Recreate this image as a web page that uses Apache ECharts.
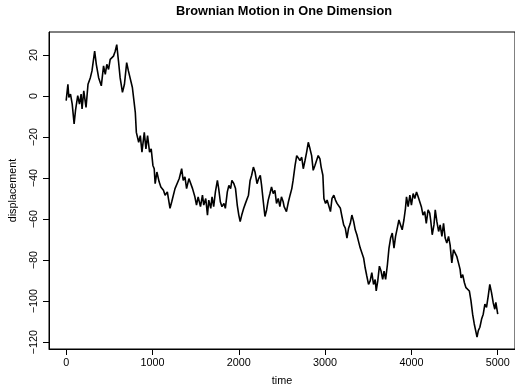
<!DOCTYPE html>
<html>
<head>
<meta charset="utf-8">
<script src="https://cdn.jsdelivr.net/npm/echarts@6/dist/echarts.min.js"></script>
<style>html,body{margin:0;padding:0;background:#fff;}#c{width:515px;height:392px;}</style>
</head>
<body>
<div id="c"></div>
<script>
const time = [0,20,31,50,70,92,108,134,154,173,184,204,230,253,280,299,330,349,376,407,433,453,471,491,510,548,568,586,606,625,652,675,701,721,740,767,790,801,813,840,859,878,905,924,943,966,985,1005,1020,1031,1051,1077,1097,1127,1146,1172,1203,1223,1261,1280,1310,1338,1356,1376,1395,1422,1441,1464,1491,1510,1529,1556,1579,1594,1617,1637,1652,1675,1690,1709,1729,1752,1767,1786,1805,1828,1844,1867,1885,1905,1920,1943,1962,1982,2000,2016,2034,2057,2077,2097,2112,2131,2149,2169,2188,2211,2230,2249,2264,2284,2303,2322,2341,2361,2379,2399,2418,2437,2457,2476,2494,2514,2525,2552,2575,2594,2614,2629,2652,2671,2690,2709,2729,2747,2767,2786,2805,2825,2844,2862,2882,2901,2920,2940,2954,2974,2986,3005,3023,3043,3062,3080,3101,3120,3138,3157,3177,3195,3215,3234,3253,3272,3292,3310,3331,3349,3368,3387,3407,3425,3446,3464,3483,3503,3522,3541,3561,3580,3592,3610,3629,3648,3667,3683,3701,3722,3740,3759,3778,3798,3816,3836,3855,3874,3893,3913,3931,3943,3962,3982,4000,4020,4039,4059,4078,4097,4115,4134,4154,4172,4193,4212,4223,4241,4261,4276,4295,4315,4333,4353,4372,4391,4410,4430,4448,4468,4487,4506,4525,4545,4564,4575,4594,4614,4632,4652,4671,4690,4709,4728,4748,4760,4775,4793,4813,4832,4851,4870,4890,4908,4928,4947,4966,4978,5000];
const displacement = [-2.2,5.8,-0.6,1,-3.9,-13.5,-7,0.2,-3.9,1,-6.3,2.6,-5.5,5.8,9,12.3,21.9,15.5,9,5,14.7,10.6,15.5,13,17.9,19.5,21.9,25.1,17.1,9,1.8,5.8,16.3,12.3,13,4.2,-4,-8,-17.7,-22.5,-19.3,-27.3,-17.7,-25.7,-19.3,-27.3,-25.7,-33.8,-35.4,-42.7,-37,-41.8,-44.3,-45.9,-48.3,-46.7,-54.7,-51.5,-45.1,-45.9,-40.2,-35.4,-41.1,-39.4,-45.1,-40.2,-39.4,-45.1,-49.1,-53.1,-49.1,-53.9,-48.3,-53.1,-49.9,-58,-50.7,-54.7,-49.1,-53.9,-46.7,-41.1,-45.1,-51.5,-53.9,-52.3,-54.7,-46.7,-43.5,-45.1,-41.1,-42.7,-45.1,-53.1,-58,-61.2,-58,-54.7,-52.3,-53.1,-48.3,-41.1,-38.6,-34.6,-37,-42.7,-40.2,-38.6,-43.5,-51.5,-58.7,-55.5,-50.7,-47.5,-44.3,-47.5,-45.9,-52.3,-49.9,-53.9,-49.1,-51.5,-53.9,-56.3,-51.5,-48.3,-45.1,-41.1,-33.8,-29,-28.2,-31.4,-29.8,-35.4,-31.4,-27.3,-22.5,-25.7,-29,-36.2,-33.8,-31.4,-29,-30.6,-34.6,-38.6,-49.9,-52.3,-50.7,-51.5,-56.3,-49.9,-48.3,-50.7,-52.3,-52.3,-54.7,-58.7,-62.8,-64.4,-69.2,-64.4,-62,-58,-61.2,-65.2,-67.6,-70.8,-74.1,-73.2,-78.9,-83.7,-87.7,-91.8,-90.1,-86.1,-91.8,-89.4,-95,-90.1,-82.9,-85.3,-89.4,-85.3,-89.4,-82.1,-74.1,-69.2,-66.8,-74.1,-68.4,-64.4,-60.4,-62.8,-65.2,-60.4,-54.7,-49.1,-53.9,-48.3,-53.1,-47.5,-49.9,-46.7,-49.1,-48.3,-53.9,-58,-56.3,-62,-55.5,-57.1,-60.4,-67.6,-62.8,-55.5,-61.2,-66,-62.8,-68.4,-62,-69.2,-71.6,-68.4,-72.5,-81.3,-74.9,-74.1,-78.1,-81.3,-84.5,-88.6,-87,-91,-93.4,-92.6,-95,-99.8,-106.3,-111.1,-115.1,-117.5,-114.3,-112.7,-108.7,-106.3,-101.4,-103,-97.4,-91.8,-95.8,-100.6,-103.9,-100.6,-106.3];
const xTicks = [0,1000,2000,3000,4000,5000];
const yTicks = [-120,-100,-80,-60,-40,-20,0,20];
const titleText = 'Brownian Motion in One Dimension';
const xName = 'time';
const yName = 'displacement';

const FONT = '"Liberation Sans", Arial, Helvetica, sans-serif';
const chart = echarts.init(document.getElementById('c'), null, {renderer: 'canvas'});
const data = time.map((t, i) => [t, displacement[i]]);
chart.setOption({
  animation: false,
  backgroundColor: '#fff',
  title: {
    text: titleText, left: 284, top: 5, textAlign: 'center', padding: 0,
    textStyle: {fontFamily: FONT, fontSize: 12.8, fontWeight: 'bold', color: '#000'}
  },
  grid: {left: 48, top: 32, width: 470, height: 320, show: true, borderColor: '#000', borderWidth: 1, backgroundColor: 'transparent'},
  xAxis: {
    type: 'value', min: -199, max: 5200,
    name: xName, nameLocation: 'middle', nameGap: 27,
    nameTextStyle: {fontFamily: FONT, fontSize: 10.8, color: '#000'},
    axisLine: {show: true, onZero: false, lineStyle: {color: '#000', width: 1}},
    axisTick: {show: true, length: 6, customValues: xTicks, lineStyle: {color: '#000'}},
    axisLabel: {customValues: xTicks, margin: 9, fontFamily: FONT, fontSize: 10.8, color: '#000',
      formatter: v => String(v)},
    splitLine: {show: false}
  },
  yAxis: {
    type: 'value', min: -123.3, max: 31.26,
    name: yName, nameLocation: 'middle', nameGap: 30, nameRotate: 90,
    nameTextStyle: {fontFamily: FONT, fontSize: 10.8, color: '#000'},
    axisLine: {show: true, onZero: false, lineStyle: {color: '#000', width: 1}},
    axisTick: {show: true, length: 6, customValues: yTicks, lineStyle: {color: '#000'}},
    axisLabel: {customValues: yTicks, rotate: 90, margin: 9, fontFamily: FONT, fontSize: 10.8, color: '#000',
      formatter: v => String(v).replace('-', '\u2212')},
    splitLine: {show: false}
  },
  series: [{
    type: 'line', data: data, showSymbol: false, symbol: 'none',
    lineStyle: {color: '#000', width: 1.6}, silent: true
  }]
});
</script>
</body>
</html>
